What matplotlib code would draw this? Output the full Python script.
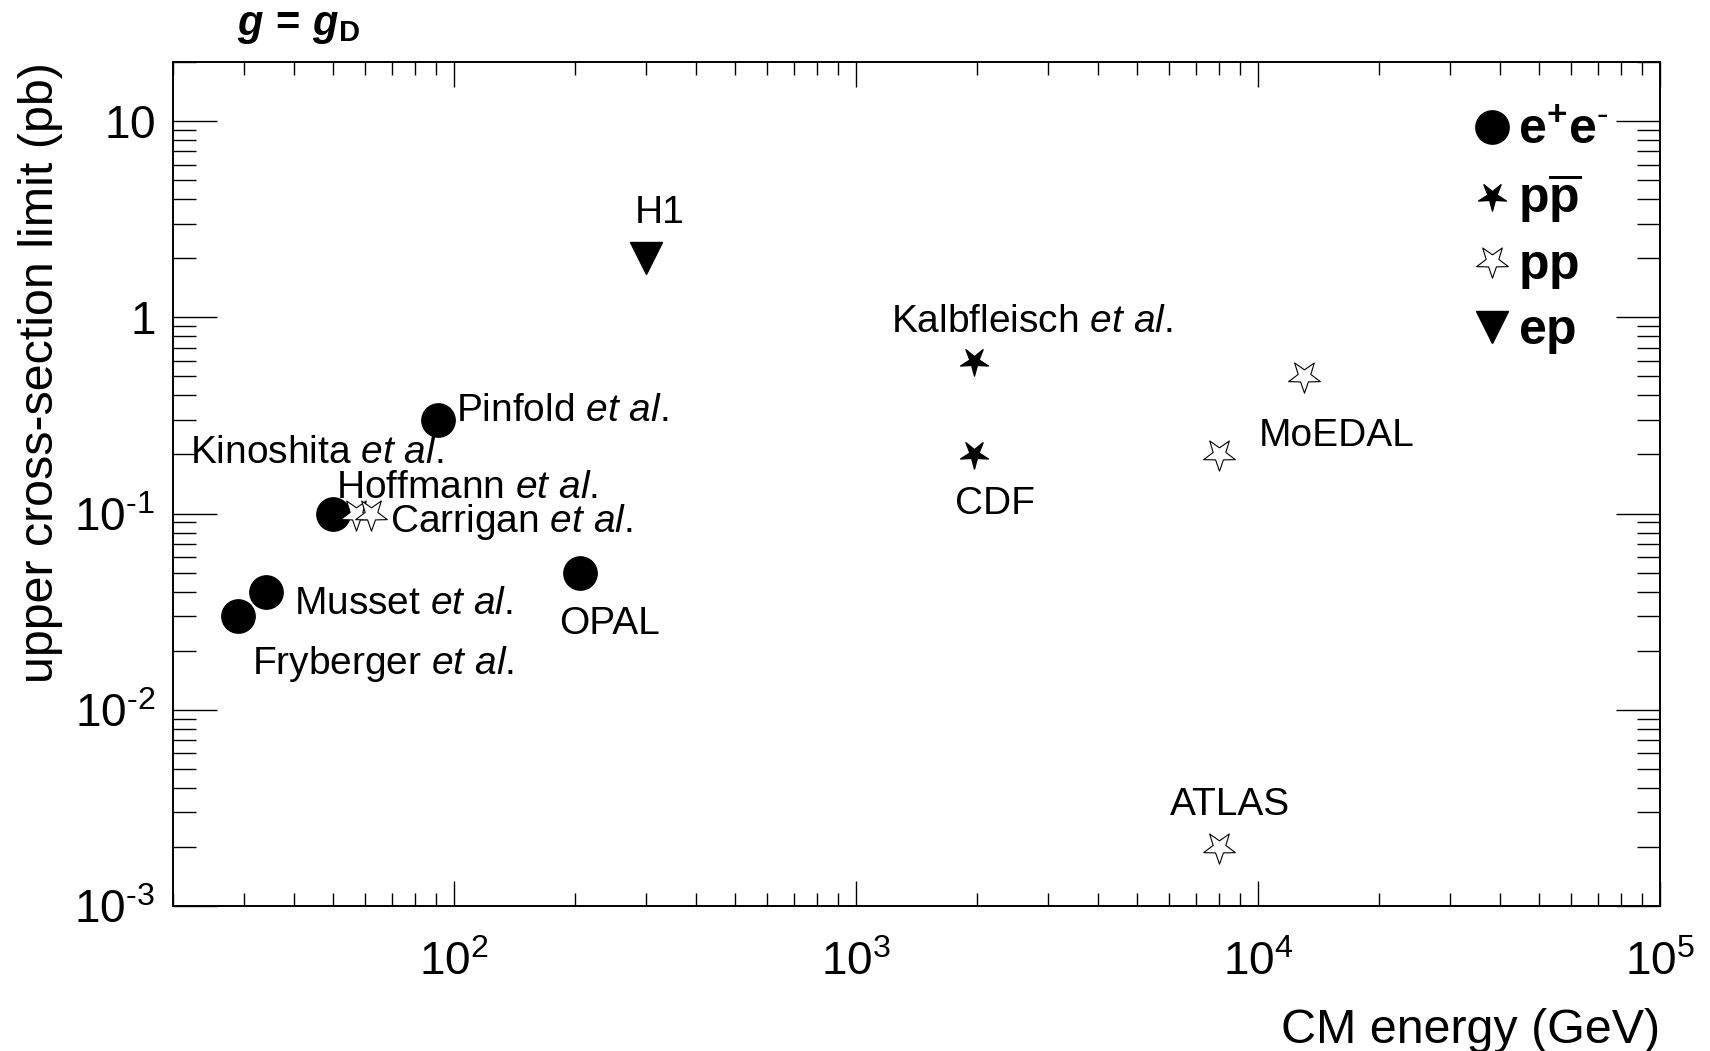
import numpy as np
import matplotlib
matplotlib.use("Agg")
import matplotlib.pyplot as plt
from matplotlib.path import Path
from matplotlib.ticker import LogLocator, FuncFormatter, NullFormatter

# ---- data: centre-of-mass energy (GeV) and upper cross-section limit (pb) ----
ee_energy = [29, 34, 50, 91, 206]
ee_limit = [0.03, 0.04, 0.1, 0.3, 0.05]
ee_names = ["Fryberger", "Musset", "Kinoshita", "Pinfold", "OPAL"]

ppbar_energy = [1960, 1960]
ppbar_limit = [0.6, 0.2]
ppbar_names = ["Kalbfleisch", "CDF"]

pp_energy = [57, 62, 8000, 13000, 8000]
pp_limit = [0.1, 0.1, 0.2, 0.5, 0.002]
pp_names = ["Hoffmann", "Carrigan", "MoEDAL", None, "ATLAS"]

ep_energy = [300]
ep_limit = [2]
ep_names = ["H1"]

legend_labels = [r"$\mathbf{e^{+}e^{\text{-}}}$", r"$\mathbf{p\overline{p}}$",
                 r"$\mathbf{pp}$", r"$\mathbf{ep}$"]

x_range = (20, 1e5)
y_range = (1e-3, 20)

# ---- fonts ----
plt.rcParams["font.family"] = ["Liberation Sans", "DejaVu Sans"]
plt.rcParams["mathtext.fontset"] = "custom"
plt.rcParams["mathtext.rm"] = "Liberation Sans"
plt.rcParams["mathtext.sf"] = "Liberation Sans"
plt.rcParams["mathtext.it"] = "Liberation Sans:italic"
plt.rcParams["mathtext.bf"] = "Liberation Sans:bold"
plt.rcParams["mathtext.bfit"] = "Liberation Sans:italic:bold"


def inverted_star(inner):
    """Five-pointed star with one point downwards."""
    verts = []
    for k in range(5):
        a = np.deg2rad(-90 + 72 * k)
        verts.append((np.cos(a), np.sin(a)))
        b = a + np.deg2rad(36)
        verts.append((inner * np.cos(b), inner * np.sin(b)))
    verts.append(verts[0])
    codes = [Path.MOVETO] + [Path.LINETO] * 9 + [Path.CLOSEPOLY]
    return Path(verts, codes)


fig = plt.figure(figsize=(17.1, 10.51), dpi=100)
ax = fig.add_axes([0.1012, 0.138, 0.8696, 0.803])
ax.set_xscale("log")
ax.set_yscale("log")
ax.set_xlim(*x_range)
ax.set_ylim(*y_range)

h_ee, = ax.plot(ee_energy, ee_limit, linestyle="none", marker="o",
                markersize=24, color="black", zorder=3)
h_ppbar, = ax.plot(ppbar_energy, ppbar_limit, linestyle="none",
                   marker=inverted_star(0.33), markersize=21,
                   color="black", zorder=3)
h_pp, = ax.plot(pp_energy, pp_limit, linestyle="none",
                marker=inverted_star(0.40), markersize=24,
                markerfacecolor="white", markeredgecolor="black",
                markeredgewidth=0.8, zorder=3)
h_ep, = ax.plot(ep_energy, ep_limit, linestyle="none", marker="v",
                markersize=23, color="black", zorder=3)

# label placement relative to each point (pixels)
offsets = {
    "Fryberger": (14, -58), "Musset": (28, -22), "Kinoshita": (-143, 51),
    "Pinfold": (18, -1), "OPAL": (-21, -61), "Kalbfleisch": (-83, 29),
    "CDF": (-19, -60), "Hoffmann": (-20, 16), "Carrigan": (19, -18),
    "MoEDAL": (40, 8), "ATLAS": (-49, 32), "H1": (-11, 35),
}
plain = {"OPAL", "CDF", "MoEDAL", "ATLAS", "H1"}

for xs, ys, names in [(ee_energy, ee_limit, ee_names),
                      (ppbar_energy, ppbar_limit, ppbar_names),
                      (pp_energy, pp_limit, pp_names),
                      (ep_energy, ep_limit, ep_names)]:
    for x, y, name in zip(xs, ys, names):
        if name is None:
            continue
        text = name if name in plain else name + r" $\mathit{et\ al.}$"
        ax.annotate(text, xy=(x, y), xytext=offsets[name],
                    textcoords="offset pixels", ha="left", va="baseline",
                    fontsize=28, zorder=2)

# ---- axes styling ----
def decade_label(v, pos):
    e = int(round(np.log10(v)))
    if e == 0:
        return r"$1$"
    if e == 1:
        return r"$10$"
    if e < 0:
        return r"$10^{\text{-}%d}$" % (-e)
    return r"$10^{%d}$" % e

for axis in (ax.xaxis, ax.yaxis):
    axis.set_major_locator(LogLocator(base=10, numticks=20))
    axis.set_minor_locator(LogLocator(base=10, subs=np.arange(2, 10), numticks=20))
    axis.set_major_formatter(FuncFormatter(decade_label))
    axis.set_minor_formatter(NullFormatter())

ax.tick_params(which="both", direction="in", top=True, right=True,
               width=1.0, colors="black", labelsize=33)
ax.tick_params(axis="x", which="major", length=18, pad=25)
ax.tick_params(axis="x", which="minor", length=9.5)
ax.tick_params(axis="y", which="major", length=32, pad=13)
ax.tick_params(axis="y", which="minor", length=16.5)
for sp in ax.spines.values():
    sp.set_linewidth(1.4)

ax.set_xlabel("CM energy (GeV)", fontsize=34.8, loc="right", labelpad=17)
ax.set_ylabel("upper cross-section limit (pb)", fontsize=34.8, loc="top",
              labelpad=8)

ax.legend([h_ee, h_ppbar, h_pp, h_ep], legend_labels, loc="upper left",
          bbox_to_anchor=(0.877, 0.945), frameon=False, fontsize=36,
          handlelength=0.6, handletextpad=0.22, labelspacing=0.35,
          borderpad=0, borderaxespad=0)

fig.text(237 / 1710, 1 - 35 / 1051,
         r"$\mathbfit{g}\,\mathbf{=}\,\mathbfit{g}_{\mathbf{D}}$",
         fontsize=30, ha="left", va="baseline")

fig.savefig("out.png", dpi=100)
